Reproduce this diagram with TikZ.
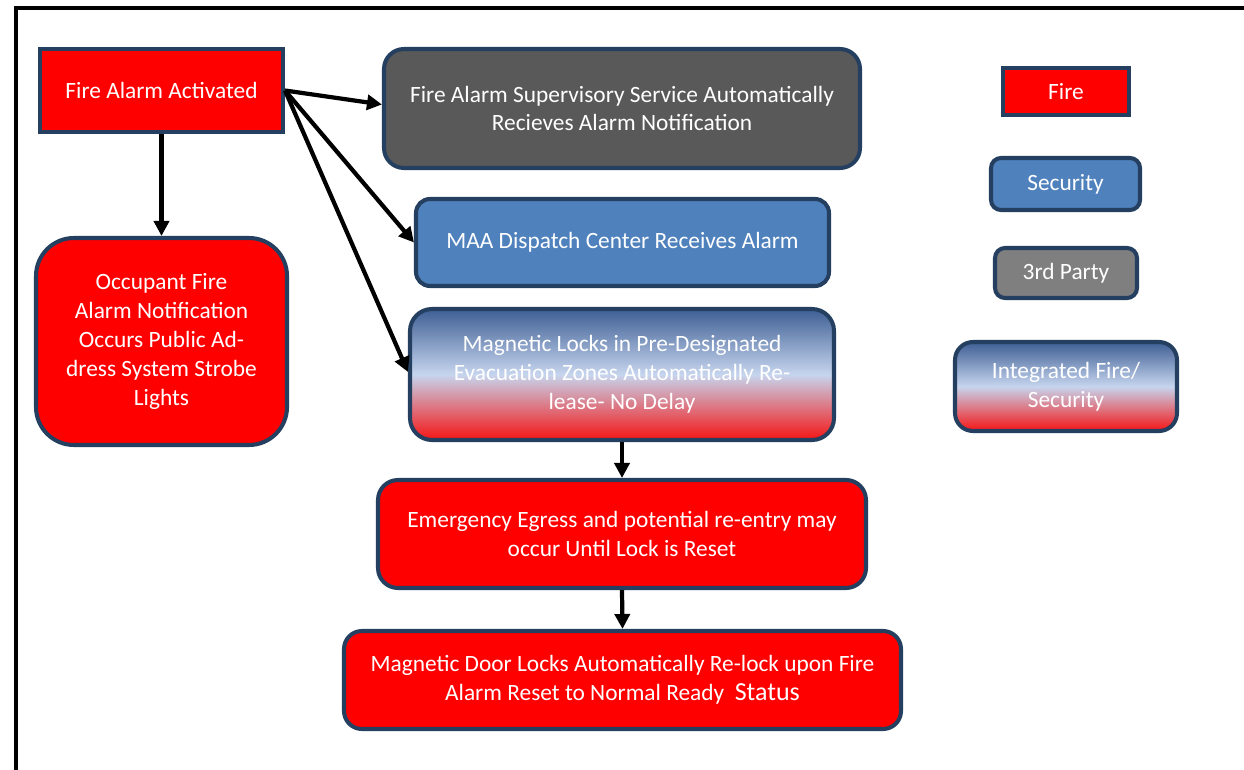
\documentclass[tikz,border=0pt]{standalone}
\usepackage{fontspec}
\setmainfont{Carlito}
\usetikzlibrary{arrows.meta}
\definecolor{bord}{RGB}{36,63,96}
\definecolor{firered}{RGB}{255,0,0}
\definecolor{supgray}{RGB}{89,89,89}
\definecolor{legray}{RGB}{127,127,127}
\definecolor{secblue}{RGB}{79,129,189}
\definecolor{gtop}{RGB}{62,94,148}
\definecolor{gmid}{RGB}{198,213,238}
\definecolor{gbot}{RGB}{245,20,20}
\tikzset{
  x=0.02cm, y=-0.02cm,
  basebox/.style={draw=bord, line width=2.3pt, text=white, align=center,
    font=\fontsize{13.3}{16.4}\selectfont, inner sep=0pt},
  firebox/.style={basebox, fill=firered},
  supbox/.style={basebox, fill=supgray},
  secbox/.style={basebox, fill=secblue},
  thirdbox/.style={basebox, fill=legray},
  gradbox/.style={basebox, top color=gtop, bottom color=gbot, middle color=gmid},
  sz/.style n args={2}{minimum width=#1*0.02cm, minimum height=#2*0.02cm},
  flow/.style={line width=2.4pt, -{Triangle[length=0.3cm, width=0.3cm]}},
}
\begin{document}
\begin{tikzpicture}
\useasboundingbox (0,0) rectangle (1244,770);
\fill[white] (0,0) rectangle (1244,770);
% frame
\draw[line width=1.8pt, black] (16,770) -- (16,8) -- (1250,8);

% flow nodes
\node[firebox, sz={243}{83}] (fa) at (161.5,90.5) {Fire Alarm Activated};
\node[supbox, sz={476}{119}, rounded corners=0.4cm] (sup) at (622,108.5)
  {Fire Alarm Supervisory Service Automatically\\Recieves Alarm Notification};
\node[secbox, sz={413}{87}, rounded corners=0.28cm] (maa) at (622.5,242.5)
  {MAA Dispatch Center Receives Alarm};
\node[gradbox, sz={424}{131}, rounded corners=0.44cm] (mag) at (622,374.5)
  {Magnetic Locks in Pre-Designated\\Evacuation Zones Automatically Re-\\lease- No Delay};
\node[firebox, sz={488}{108}, rounded corners=0.4cm] (eme) at (622,534)
  {Emergency Egress and potential re-entry may\\occur Until Lock is Reset};
\node[firebox, sz={557}{98}, rounded corners=0.36cm] (door) at (622.5,680)
  {Magnetic Door Locks Automatically Re-lock upon Fire\\Alarm Reset to Normal Ready\ \ {\fontsize{14.8}{16}\selectfont Status}};
\node[firebox, sz={251}{207}, rounded corners=0.76cm] (occ) at (161.5,341.5)
  {Occupant Fire\\Alarm Notification\\Occurs Public Ad-\\dress System Strobe\\Lights};

% legend
\node[firebox, sz={126}{47}] (lfire) at (1066,91.5) {Fire};
\node[secbox, sz={149}{52}, rounded corners=0.2cm] (lsec) at (1065.5,184) {Security};
\node[thirdbox, sz={142}{50}, rounded corners=0.2cm] (lthird) at (1066,273) {3rd Party};
\node[gradbox, sz={222}{89}, rounded corners=0.36cm] (lint) at (1066,386.5) {Integrated Fire/\\Security};

% connectors
\draw[flow] (fa.east) -- ([yshift=0.08cm]sup.west);
\draw[flow] (fa.east) -- (maa.west);
\draw[flow] (fa.east) -- ([yshift=0.05cm]mag.west);
\draw[flow] (fa.south) -- (occ.north);
\draw[flow] (mag.south) -- (eme.north);
\draw[flow] (eme.south) -- (door.north);
\end{tikzpicture}
\end{document}
